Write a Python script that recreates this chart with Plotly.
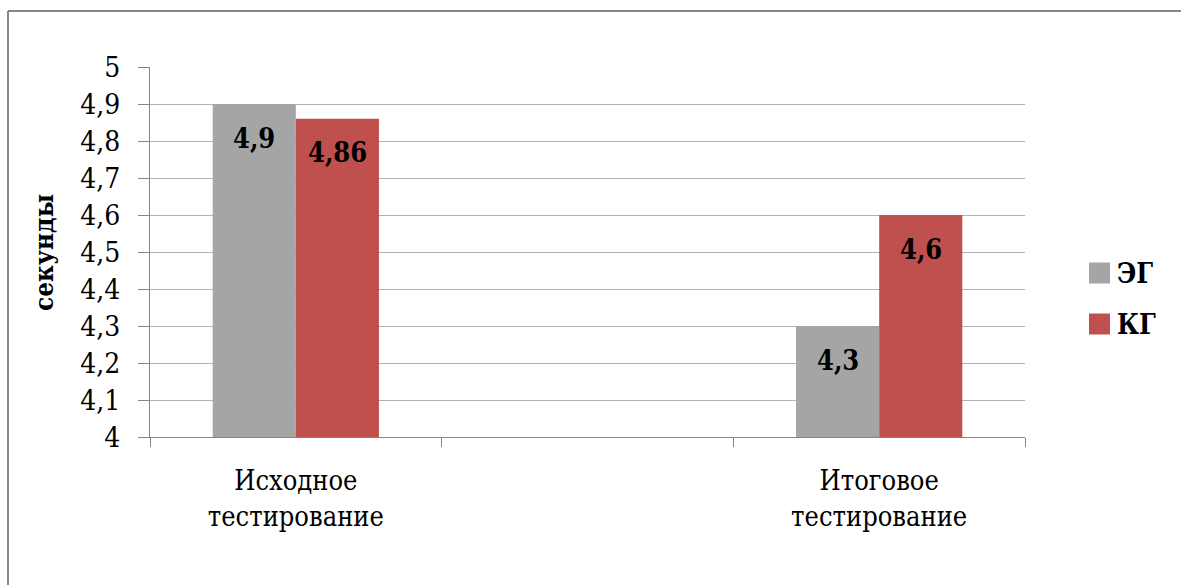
import plotly.graph_objects as go

# Test stages (middle slot is an empty category, as in the source layout)
categories = ["Исходное<br>тестирование", " ", "Итоговое<br>тестирование"]
series_names = ["ЭГ", "КГ"]
eg_values = [4.9, None, 4.3]
kg_values = [4.86, None, 4.6]
y_ticks = [4, 4.1, 4.2, 4.3, 4.4, 4.5, 4.6, 4.7, 4.8, 4.9, 5]
y_tick_labels = ["4", "4,1", "4,2", "4,3", "4,4", "4,5", "4,6", "4,7", "4,8", "4,9", "5"]
y_title = "секунды"

colors = ["#A5A5A5", "#C0504D"]
serif = "DejaVu Serif Condensed"

W, H = 1181, 585
L, R, T, B = 150, 156, 67, 148
pw, ph = W - L - R, H - T - B


def px_x(x):
    return (x - L) / pw


def px_y(y):
    return (H - B - y) / ph


fig = go.Figure()
for name, vals, col in zip(series_names, [eg_values, kg_values], colors):
    fig.add_trace(go.Bar(x=categories, y=vals, name=name, marker_color=col,
                         marker_line_width=0, showlegend=False))

# value labels near the top of each bar
bar_w = pw / 3 * (1 - 0.43) / 2
for vals, shift in zip([eg_values, kg_values], [-bar_w / 2, bar_w / 2]):
    for c, v in zip(categories, vals):
        if v is None:
            continue
        fig.add_annotation(x=c, y=v, xref="x", yref="y", xshift=shift, yshift=-34,
                           text=f"<b>{str(v).replace('.', ',')}</b>", showarrow=False,
                           yanchor="middle", xanchor="center",
                           font=dict(family=serif, size=27, color="black"))

# legend: colour swatches with bold labels
legend_y = [273, 324]
for name, col, cy in zip(series_names, colors, legend_y):
    fig.add_shape(type="rect", xref="paper", yref="paper",
                  x0=px_x(1089), x1=px_x(1110), y0=px_y(cy - 10.5), y1=px_y(cy + 10.5),
                  fillcolor=col, line_width=0)
    fig.add_annotation(xref="paper", yref="paper", x=px_x(1115), y=px_y(cy),
                       text=f"<b>{name}</b>", showarrow=False, xanchor="left", yanchor="middle",
                       font=dict(family=serif, size=27, color="black"))

# y axis title
fig.add_annotation(xref="paper", yref="paper", x=px_x(44), y=px_y(253), text=f"<b>{y_title}</b>",
                   textangle=-90, showarrow=False, xanchor="center", yanchor="middle",
                   font=dict(family=serif, size=26, color="black"))

# chart frame (top and left edges)
frame = dict(color="#868686", width=2)
fig.add_shape(type="line", xref="paper", yref="paper", x0=px_x(8), x1=px_x(W + 5),
              y0=px_y(11), y1=px_y(11), line=frame)
fig.add_shape(type="line", xref="paper", yref="paper", x0=px_x(8), x1=px_x(8),
              y0=px_y(11), y1=px_y(H + 5), line=frame)

fig.update_layout(
    width=W, height=H,
    margin=dict(l=L, r=R, t=T, b=B),
    paper_bgcolor="white", plot_bgcolor="white",
    barmode="group", bargap=0.43, bargroupgap=0,
)
fig.update_xaxes(type="category", tickson="boundaries", ticks="outside", ticklen=9,
                 tickcolor="#868686", showline=True, linecolor="#868686", linewidth=1,
                 showgrid=False, tickfont=dict(family=serif, size=27, color="black"),
                 ticklabelstandoff=20)
fig.update_yaxes(range=[4, 5], tickvals=y_ticks, ticktext=y_tick_labels,
                 ticks="outside", ticklen=11, tickcolor="#868686",
                 showline=True, linecolor="#868686", linewidth=1,
                 showgrid=True, gridcolor="#b3b3b3", gridwidth=1, zeroline=False,
                 tickfont=dict(family=serif, size=28, color="black"), ticklabelstandoff=12)

fig.write_html("out.html")
